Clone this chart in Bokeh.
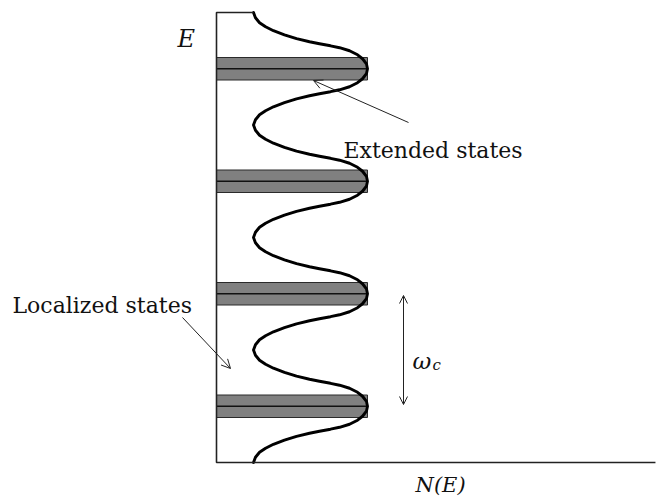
from bokeh.plotting import figure
from bokeh.models import Range1d, Arrow, OpenHead
from bokeh.core.properties import value
from bokeh.embed import file_html
from bokeh.resources import INLINE

# Landau-level density of states N(E): energies in units of the level
# spacing omega_c, N normalised to the peak height.
band_centers = [3.5, 2.5, 1.5, 0.5]
band_halfwidth = 0.1          # half-width of the extended-state strip
# one symmetric half of a broadened level: offset from the centre -> N
profile_dE = [0.0, 0.044, 0.089, 0.124, 0.160, 0.187, 0.204, 0.222,
              0.240, 0.267, 0.302, 0.338, 0.373, 0.409, 0.453, 0.5]
profile_N = [1.0, 0.993, 0.967, 0.934, 0.881, 0.815, 0.755, 0.682,
             0.616, 0.530, 0.450, 0.377, 0.325, 0.285, 0.258, 0.245]
E_top = 4.0
N_axis_end = 2.907

W, H = 660, 497
# screen placement of the origin and scale (pixels per unit)
OX, OY, SX, SY = 216, 462, 151, 112.5


def X(px):
    return (px - OX) / SX


def Y(py):
    return (OY - py) / SY


p = figure(width=W, height=H, output_backend="svg", toolbar_location=None,
           x_range=Range1d(X(0), X(W)), y_range=Range1d(Y(H), Y(0)),
           x_axis_location=None, y_axis_location=None, min_border=0)
p.outline_line_color = None
p.grid.visible = False
p.background_fill_color = "white"
p.border_fill_color = "white"

# extended-state strips around each level
p.quad(left=[0] * len(band_centers), right=[1.0] * len(band_centers),
       bottom=[c - band_halfwidth for c in band_centers],
       top=[c + band_halfwidth for c in band_centers],
       fill_color="#808080", line_color="#2a2a2a", line_width=1)
p.segment(x0=[0] * len(band_centers), x1=[1.0] * len(band_centers),
          y0=band_centers, y1=band_centers, line_color="#111111", line_width=1.5)

# density of states curve, top to bottom
curve_N, curve_E = [], []
for c in band_centers:
    upper = list(zip(reversed(profile_dE), reversed(profile_N)))
    lower = list(zip(profile_dE[1:], profile_N[1:]))
    for dE, n in upper:
        if curve_E and abs(curve_E[-1] - (c + dE)) < 1e-9:
            continue
        curve_E.append(c + dE)
        curve_N.append(n)
    for dE, n in lower:
        curve_E.append(c - dE)
        curve_N.append(n)
p.line(curve_N, curve_E, line_color="black", line_width=2.9,
       line_join="round", line_cap="round")

# axes frame
p.line([profile_N[-1], 0, 0, N_axis_end], [E_top, E_top, 0, 0],
       line_color="#222222", line_width=1.6)

serif = value("DejaVu Serif")


def label(px, py, txt, size="22px", style="normal"):
    p.text(x=[X(px)], y=[Y(py)], text=[txt], text_font=serif,
           text_font_size=size, text_font_style=style, text_color="#111111",
           text_align="left", text_baseline="alphabetic")


label(177, 38, "E", "24px", "italic")
label(415, 484, "N(E)", "21px", "italic")
label(343, 150, "Extended states")
label(12, 305, "Localized states")
label(412, 360, "ω", "23px", "italic")
label(432, 364, "c", "15px", "italic")

arrow_col = "#222222"
p.add_layout(Arrow(end=OpenHead(size=9, line_width=1, line_color=arrow_col),
                   x_start=X(408), y_start=Y(122), x_end=X(313), y_end=Y(80),
                   line_width=1, line_color=arrow_col))
p.add_layout(Arrow(end=OpenHead(size=9, line_width=1, line_color=arrow_col),
                   x_start=X(182), y_start=Y(317), x_end=X(230), y_end=Y(368),
                   line_width=1, line_color=arrow_col))
p.add_layout(Arrow(start=OpenHead(size=8, line_width=1, line_color=arrow_col),
                   end=OpenHead(size=8, line_width=1, line_color=arrow_col),
                   x_start=X(403), y_start=Y(295), x_end=X(403), y_end=Y(404),
                   line_width=1, line_color=arrow_col))

open("out.html", "w").write(file_html(p, INLINE))
